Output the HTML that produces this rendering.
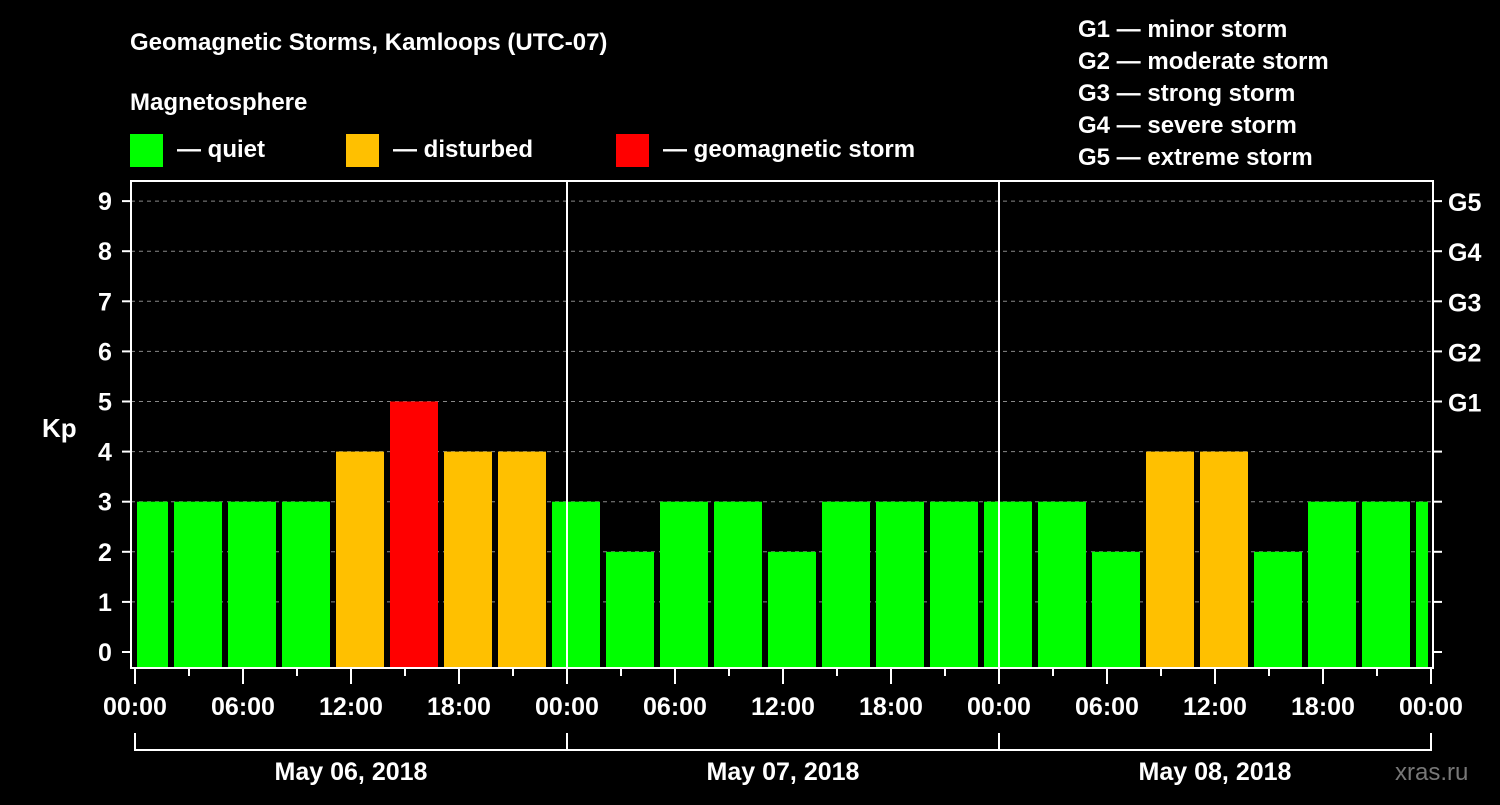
<!DOCTYPE html>
<html><head><meta charset="utf-8"><style>
body{margin:0;background:#000;}
svg text{font-family:"Liberation Sans",Arial,sans-serif;font-weight:bold;fill:#fff;}
</style></head><body>
<svg id="c" width="1500" height="800" viewBox="0 0 1500 800" xmlns="http://www.w3.org/2000/svg">
<rect width="1500" height="800" fill="#000"/>
<text x="130" y="50" font-size="24">Geomagnetic Storms, Kamloops (UTC-07)</text>
<text x="130" y="110" font-size="24">Magnetosphere</text>
<g><rect x="130" y="134" width="33" height="33" fill="#00ff00"/><text x="177" y="157" font-size="24">— quiet</text></g>
<g><rect x="346" y="134" width="33" height="33" fill="#ffc000"/><text x="393" y="157" font-size="24">— disturbed</text></g>
<g><rect x="616" y="134" width="33" height="33" fill="#ff0000"/><text x="663" y="157" font-size="24">— geomagnetic storm</text></g>
<g font-size="24">
<text x="1078" y="37">G1 — minor storm</text>
<text x="1078" y="69">G2 — moderate storm</text>
<text x="1078" y="101">G3 — strong storm</text>
<text x="1078" y="133">G4 — severe storm</text>
<text x="1078" y="165">G5 — extreme storm</text>
</g>
<text x="42" y="437" font-size="26">Kp</text>
<text x="1395" y="780" font-size="24" fill="#777" style="fill:#777;font-weight:normal">xras.ru</text>
<g id="grid"></g><g id="bars"></g><g id="axes"></g>
</svg>
<script>
const kpValues=[3,3,3,3,4,5,4,4,3,2,3,3,2,3,3,3,3,3,2,4,4,2,3,3,3];
const barStartHours=[-1,2,5,8,11,14,17,20,23,26,29,32,35,38,41,44,47,50,53,56,59,62,65,68,71];
const xTickLabels=["00:00","06:00","12:00","18:00","00:00","06:00","12:00","18:00","00:00","06:00","12:00","18:00","00:00"];
const dayLabels=["May 06, 2018","May 07, 2018","May 08, 2018"];
const yTicks=[0,1,2,3,4,5,6,7,8,9];
const gLabels=["G1","G2","G3","G4","G5"];
const NS="http://www.w3.org/2000/svg";
const L=131,R=1433,T=181,B=668;
const x=h=>135+h*18;
const y=v=>652-v*50.1;
function mk(tag,attrs,parent,txt){const e=document.createElementNS(NS,tag);for(const k in attrs)e.setAttribute(k,attrs[k]);if(txt!==undefined)e.textContent=txt;parent.appendChild(e);return e;}
const grid=document.getElementById('grid'),bars=document.getElementById('bars'),axes=document.getElementById('axes');
yTicks.forEach(v=>{if(v>0){const g=mk('line',{x1:L,x2:R,y1:y(v),y2:y(v),stroke:'#888','stroke-dasharray':'4,4','stroke-width':1},grid);

}
const t=mk('text',{x:105,y:y(v)+9,'font-size':25,'text-anchor':'middle'},axes,String(v));


mk('line',{x1:L-9,x2:L,y1:y(v),y2:y(v),stroke:'#fff','stroke-width':2},axes);
mk('line',{x1:R,x2:R+9,y1:y(v),y2:y(v),stroke:'#fff','stroke-width':2},axes);});
gLabels.forEach((g,i)=>{const t=mk('text',{x:1448,y:y(5+i)+10,'font-size':25},axes,g);

});
kpValues.forEach((v,i)=>{let x0=x(barStartHours[i])+3,x1=x(barStartHours[i]+3)-3;x0=Math.max(x0,137);x1=Math.min(x1,1428);
const col=v>=5?'#ff0000':v>=4?'#ffc000':'#00ff00';
const r=mk('rect',{x:x0,y:y(v),width:x1-x0,height:B-y(v),fill:col},bars);

});
mk('rect',{x:L,y:T,width:R-L,height:B-T,fill:'none',stroke:'#fff','stroke-width':2},axes);
[1,2].forEach(d=>mk('line',{x1:x(d*24),x2:x(d*24),y1:T,y2:B,stroke:'#fff','stroke-width':2},axes));
for(let h=0;h<=72;h+=3){mk('line',{x1:x(h),x2:x(h),y1:B,y2:B+(h%6===0?16:8),stroke:'#fff','stroke-width':2},axes);}
xTickLabels.forEach((s,i)=>{const t=mk('text',{x:x(i*6),y:715,'font-size':25,'text-anchor':'middle'},axes,s);

});
dayLabels.forEach((s,i)=>{mk('path',{d:`M${x(i*24)} 733 V750 H${x(i*24+24)} V733`,fill:'none',stroke:'#fff','stroke-width':2},axes);
const t=mk('text',{x:x(i*24+12),y:780,'font-size':25,'text-anchor':'middle'},axes,s);

});
</script>
</body></html>
